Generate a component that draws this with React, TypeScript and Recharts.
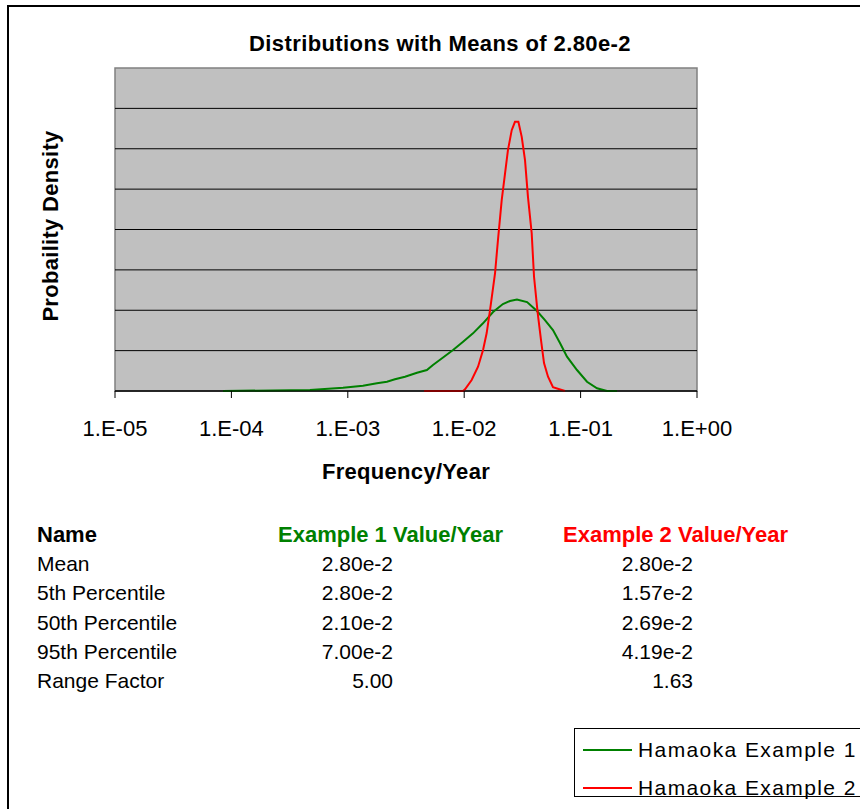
import React from "react";
import {
  LineChart,
  Line,
  XAxis,
  YAxis,
  ReferenceLine,
  ReferenceArea,
  Legend,
} from "recharts";

// ---- Data ----
const ex1Freq = [
  8.47e-5, 4.73e-4, 9.1e-4, 1.35e-3, 1.78e-3, 2.17e-3, 2.54e-3, 3.1e-3, 3.93e-3,
  4.78e-3, 5.39e-3, 6.58e-3, 8.02e-3, 9.78e-3, 1.19e-2, 1.45e-2, 1.77e-2,
  2.15e-2, 2.47e-2, 2.84e-2, 3.47e-2, 4.22e-2, 4.94e-2, 5.79e-2, 6.65e-2,
  7.64e-2, 9.31e-2, 0.1135, 0.1384, 0.1687, 0.2056,
];
const ex1Density = [
  0, 0.025, 0.082, 0.131, 0.19, 0.23, 0.29, 0.354, 0.453, 0.52, 0.644, 0.829,
  1.015, 1.22, 1.428, 1.676, 1.955, 2.153, 2.228, 2.265, 2.203, 1.98, 1.757,
  1.51, 1.188, 0.849, 0.52, 0.23, 0.067, 0, 0,
];

const ex2Freq = [
  4.52e-3, 9.78e-3, 1.016e-2, 1.159e-2, 1.315e-2, 1.452e-2, 1.56e-2, 1.667e-2,
  1.841e-2, 1.95e-2, 2.1e-2, 2.245e-2, 2.376e-2, 2.56e-2, 2.73e-2, 2.92e-2,
  3.12e-2, 3.33e-2, 3.53e-2, 3.8e-2, 3.98e-2, 4.28e-2, 4.57e-2, 4.85e-2,
  5.25e-2, 5.79e-2, 6.89e-2, 7.35e-2,
];
const ex2Density = [
  0, 0, 0.042, 0.272, 0.601, 1.015, 1.436, 2.005, 2.921, 3.738, 4.728, 5.396,
  5.965, 6.46, 6.666, 6.666, 6.295, 5.718, 4.809, 3.911, 2.829, 1.931, 1.262,
  0.693, 0.354, 0.092, 0.025, 0,
];

const xTicks = [1e-5, 1e-4, 1e-3, 1e-2, 1e-1, 1];
const yGrid = [1, 2, 3, 4, 5, 6, 7];
const xDomain: [number, number] = [1e-5, 1];
const yDomain: [number, number] = [0, 8];

const seriesNames = ["Hamaoka Example 1", "Hamaoka Example 2"];
const seriesColors = ["#008000", "#FF0000"];

const tableHeaders = ["Name", "Example 1 Value/Year", "Example 2 Value/Year"];
const rowNames = ["Mean", "5th Percentile", "50th Percentile", "95th Percentile", "Range Factor"];
const ex1Values = ["2.80e-2", "2.80e-2", "2.10e-2", "7.00e-2", "5.00"];
const ex2Values = ["2.80e-2", "1.57e-2", "2.69e-2", "4.19e-2", "1.63"];

const ex1Data = ex1Freq.map((x, i) => ({ x, y: ex1Density[i] }));
const ex2Data = ex2Freq.map((x, i) => ({ x, y: ex2Density[i] }));

const FONT = "'Liberation Sans', Arial, Helvetica, sans-serif";

const fmtTick = (v: number) => {
  const e = Math.round(Math.log10(v));
  return `1.E${e < 0 ? "-" : "+"}${String(Math.abs(e)).padStart(2, "0")}`;
};

const LegendBox = (props: any) => {
  const payload = props.payload || [];
  return (
    <div
      style={{
        position: "relative",
        width: 320,
        height: 69,
        border: "1px solid #000",
        background: "#fff",
        boxSizing: "border-box",
        fontFamily: FONT,
      }}
    >
      {payload.map((p: any, i: number) => (
        <div
          key={i}
          style={{
            position: "absolute",
            left: 8,
            top: 9 + i * 38,
            display: "flex",
            alignItems: "center",
            height: 24,
            whiteSpace: "nowrap",
          }}
        >
          <div style={{ width: 49, height: 2, background: p.color }} />
          <span
            style={{
              marginLeft: 6,
              fontSize: 21,
              letterSpacing: 1.4,
              color: "#000",
            }}
          >
            {p.value}
          </span>
        </div>
      ))}
    </div>
  );
};

export default function App() {
  const rowBase = [571, 600, 629.5, 659, 688];
  return (
    <div
      style={{
        position: "absolute",
        left: 0,
        top: 0,
        width: 860,
        height: 809,
        overflow: "hidden",
        background: "#fff",
        fontFamily: FONT,
      }}
    >
      <div
        style={{
          position: "absolute",
          left: 7,
          top: 5,
          width: 1000,
          height: 1000,
          border: "2px solid #000",
        }}
      />
      <div style={{ position: "absolute", left: 0, top: 0 }}>
        <LineChart
          width={860}
          height={809}
          margin={{ top: 68, right: 163, left: 115, bottom: 388 }}
        >
          <XAxis
            type="number"
            dataKey="x"
            scale="log"
            domain={xDomain}
            ticks={xTicks}
            allowDataOverflow
            tickFormatter={fmtTick}
            height={30}
            stroke="#000"
            tickSize={7}
            tickMargin={22}
            tick={{ fontSize: 22, fill: "#000", fontFamily: FONT }}
          />
          <YAxis
            type="number"
            domain={yDomain}
            width={0}
            tick={false}
            axisLine={false}
            tickLine={false}
          />
          <ReferenceArea
            x1={xDomain[0]}
            x2={xDomain[1]}
            y1={yDomain[0]}
            y2={yDomain[1]}
            fill="#C0C0C0"
            fillOpacity={1}
            stroke="#808080"
            strokeWidth={1.5}
          />
          {yGrid.map((t) => (
            <ReferenceLine key={t} y={t} stroke="#000" strokeWidth={1} />
          ))}
          <ReferenceLine y={yDomain[0]} stroke="#000" strokeWidth={1.2} />
          <Line
            data={ex1Data}
            dataKey="y"
            name={seriesNames[0]}
            stroke={seriesColors[0]}
            strokeWidth={2}
            dot={false}
            type="linear"
            isAnimationActive={false}
          />
          <Line
            data={ex2Data}
            dataKey="y"
            name={seriesNames[1]}
            stroke={seriesColors[1]}
            strokeWidth={2}
            dot={false}
            type="linear"
            isAnimationActive={false}
          />
          <Legend
            content={<LegendBox />}
            layout="horizontal"
            verticalAlign="middle"
            align="center"
            wrapperStyle={{ position: "absolute", left: 574, top: 728, width: 320 }}
          />
        </LineChart>
      </div>
      <svg
        width={860}
        height={809}
        style={{ position: "absolute", left: 0, top: 0, pointerEvents: "none" }}
        fontFamily={FONT}
      >
        <text x={440} y={51} textAnchor="middle" fontSize={22} fontWeight="bold" letterSpacing={0.4}>
          Distributions with Means of 2.80e-2
        </text>
        <text
          transform="translate(58,226) rotate(-90)"
          textAnchor="middle"
          fontSize={22}
          fontWeight="bold"
          letterSpacing={0.3}
        >
          Probaility Density
        </text>
        <text x={406} y={479} textAnchor="middle" fontSize={22} fontWeight="bold" letterSpacing={0.3}>
          Frequency/Year
        </text>
        <text x={37} y={542} fontSize={22} fontWeight="bold">
          {tableHeaders[0]}
        </text>
        <text x={278} y={542} fontSize={22} fontWeight="bold" fill={seriesColors[0]}>
          {tableHeaders[1]}
        </text>
        <text x={563} y={542} fontSize={22} fontWeight="bold" fill={seriesColors[1]}>
          {tableHeaders[2]}
        </text>
        {rowNames.map((n, i) => (
          <g key={n}>
            <text x={37} y={rowBase[i]} fontSize={21}>
              {n}
            </text>
            <text x={393} y={rowBase[i]} fontSize={21} textAnchor="end">
              {ex1Values[i]}
            </text>
            <text x={693} y={rowBase[i]} fontSize={21} textAnchor="end">
              {ex2Values[i]}
            </text>
          </g>
        ))}
      </svg>
    </div>
  );
}
